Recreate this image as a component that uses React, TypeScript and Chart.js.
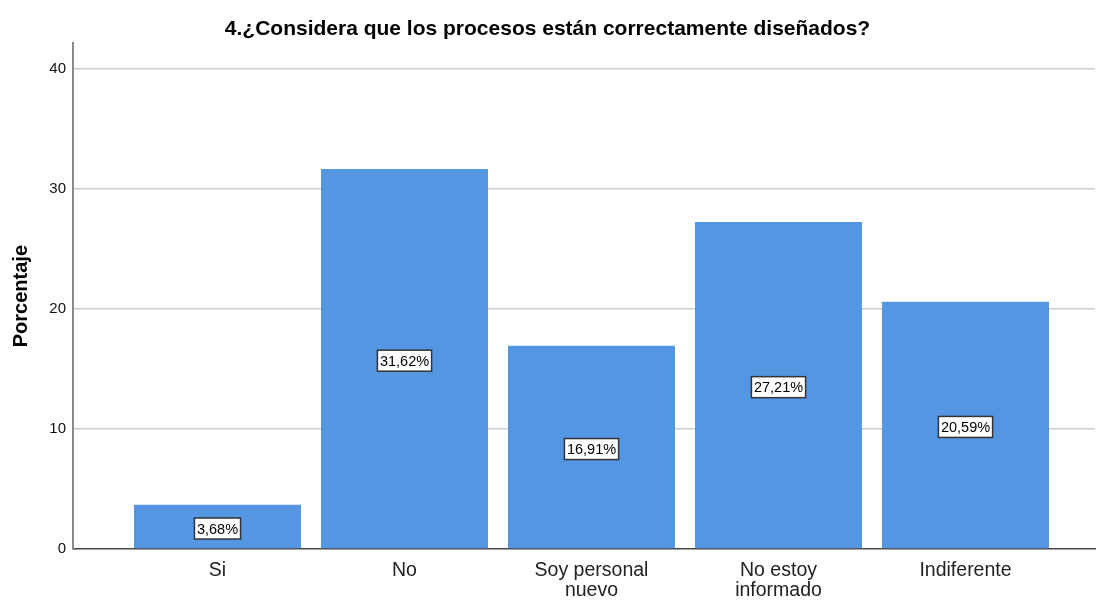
import React, { useEffect, useRef } from "react";
import { Chart, registerables } from "chart.js";

Chart.register(...registerables);

const categories: string[][] = [["Si"], ["No"], ["Soy personal", "nuevo"], ["No estoy", "informado"], ["Indiferente"]];
const percentages: number[] = [3.68, 31.62, 16.91, 27.21, 20.59];
const percentLabels: string[] = ["3,68%", "31,62%", "16,91%", "27,21%", "20,59%"];
const yTicks: number[] = [0, 10, 20, 30, 40];
const titleText = "4.¿Considera que los procesos están correctamente diseñados?";
const yTitle = "Porcentaje";

const FONT = "'Liberation Sans', Arial, sans-serif";

const labelPlugin = {
  id: "boxLabels",
  afterDatasetsDraw(chart: any) {
    const ctx = chart.ctx;
    const meta = chart.getDatasetMeta(0);
    ctx.save();
    ctx.font = `14.5px ${FONT}`;
    ctx.textAlign = "center";
    ctx.textBaseline = "middle";
    meta.data.forEach((el: any, i: number) => {
      const txt = percentLabels[i];
      const cx = el.x;
      const cy = (el.y + el.base) / 2 + 2;
      const w = ctx.measureText(txt).width + 5;
      const h = 21;
      ctx.fillStyle = "#ffffff";
      ctx.fillRect(cx - w / 2, cy - h / 2, w, h);
      ctx.lineWidth = 1.5;
      ctx.strokeStyle = "#333333";
      ctx.strokeRect(cx - w / 2, cy - h / 2, w, h);
      ctx.fillStyle = "#000000";
      ctx.fillText(txt, cx, cy + 1);
    });
    ctx.restore();
  },
};

export default function App() {
  const ref = useRef<HTMLCanvasElement>(null);
  useEffect(() => {
    document.body.style.margin = "0";
    const chart = new Chart(ref.current!, {
      type: "bar",
      data: {
        datasets: [
          {
            data: percentages.map((v, i) => ({ x: i, y: v })),
            backgroundColor: "#5596E3",
            borderWidth: 0,
            categoryPercentage: 1,
            barPercentage: 0.893,
          },
        ],
      },
      options: {
        animation: false,
        responsive: false,
        layout: { padding: { left: 0, right: 2, top: 0, bottom: 0 } },
        plugins: {
          legend: { display: false },
          tooltip: { enabled: false },
          title: {
            display: true,
            text: titleText,
            color: "#000",
            font: { family: FONT, size: 21, weight: "bold" },
            padding: { top: 17, bottom: 1 },
          },
        },
        scales: {
          x: {
            type: "linear",
            offset: false,
            min: -0.7727,
            max: 4.6925,
            grid: { display: false, drawTicks: false },
            border: { display: true, color: "#444", width: 1.5 },
            afterBuildTicks: (scale: any) => {
              scale.ticks = categories.map((_, i) => ({ value: i }));
            },
            afterFit: (scale: any) => {
              scale.height = 52;
            },
            ticks: {
              autoSkip: false,
              maxRotation: 0,
              padding: 12,
              color: "#222",
              font: { family: FONT, size: 19.5, lineHeight: 1.0 },
              callback: (v: any) => categories[Math.round(Number(v))] ?? "",
            },
          },
          y: {
            min: 0,
            max: 42.1,
            afterBuildTicks: (scale: any) => {
              scale.ticks = yTicks.map((v) => ({ value: v }));
            },
            afterFit: (scale: any) => {
              scale.width = 73;
            },
            grid: {
              drawTicks: false,
              color: (c: any) => (c.tick && c.tick.value === 0 ? "rgba(0,0,0,0)" : "#cccccc"),
              lineWidth: 1.5,
            },
            border: { display: true, color: "#8a8a8a", width: 2 },
            ticks: {
              padding: 7,
              color: "#111",
              font: { family: FONT, size: 15 },
            },
            title: {
              display: true,
              text: yTitle,
              color: "#000",
              font: { family: FONT, size: 20, weight: "bold" },
              padding: { top: 9, bottom: 0 },
            },
          },
        },
      },
      plugins: [labelPlugin],
    });
    return () => chart.destroy();
  }, []);
  return <canvas ref={ref} width={1097} height={601} style={{ display: "block" }} />;
}
